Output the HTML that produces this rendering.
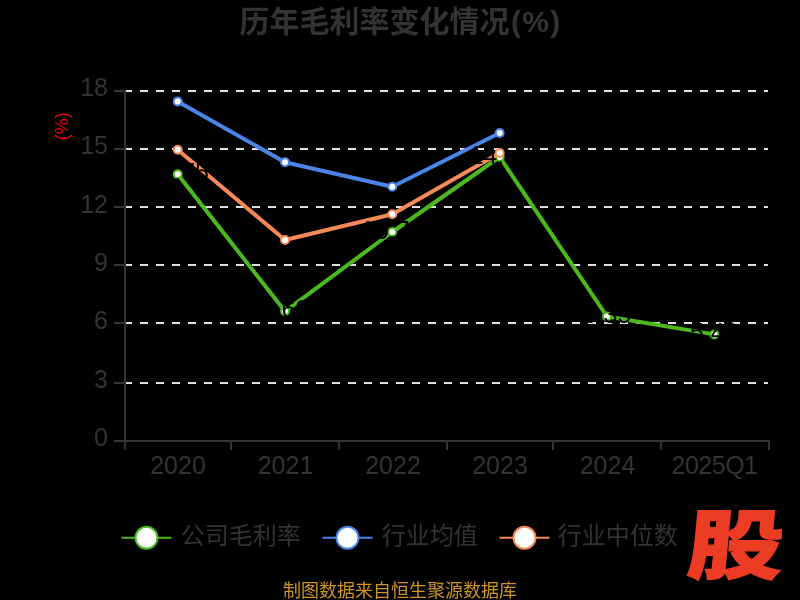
<!DOCTYPE html>
<html lang="zh-CN">
<head>
<meta charset="utf-8">
<title>历年毛利率变化情况(%)</title>
<style>
html,body{margin:0;padding:0;background:#000;}
body{width:800px;height:600px;overflow:hidden;position:relative;}
svg{display:block;position:absolute;left:0;top:0;will-change:transform;}
text{font-family:"Liberation Sans","Noto Sans CJK SC",sans-serif;}
.ax{fill:#333;font-size:25px;}
.lg{fill:#333;font-size:24px;}
</style>
</head>
<body>
<svg width="800" height="600" viewBox="0 0 800 600">

<!-- title -->
<text x="239.6" y="32" font-size="30" font-weight="bold" fill="#333">历年毛利率变化情况<tspan font-size="30" dx="1.5" letter-spacing="1.2">(%)</tspan></text>

<!-- y axis name -->
<text transform="translate(67.8,126.2) rotate(-90)" text-anchor="middle" font-size="18" fill="#ee0000">(%)</text>

<!-- split lines -->
<g stroke="#e0e0e0" stroke-width="2" stroke-dasharray="8 8" fill="none">
<line x1="124" y1="91" x2="768" y2="91"/>
<line x1="124" y1="149" x2="768" y2="149"/>
<line x1="124" y1="207" x2="768" y2="207"/>
<line x1="124" y1="265" x2="768" y2="265"/>
<line x1="124" y1="323" x2="768" y2="323"/>
<line x1="124" y1="383" x2="768" y2="383"/>
</g>

<!-- axes -->
<g fill="#333">
<rect x="124" y="90" width="2" height="352"/>
<rect x="124" y="440" width="646" height="2"/>
<rect x="114" y="90" width="10" height="2"/>
<rect x="114" y="148" width="10" height="2"/>
<rect x="114" y="206" width="10" height="2"/>
<rect x="114" y="264" width="10" height="2"/>
<rect x="114" y="322" width="10" height="2"/>
<rect x="114" y="382" width="10" height="2"/>
<rect x="114" y="440" width="10" height="2"/>
<rect x="124" y="440" width="2" height="10"/>
<rect x="230" y="440" width="2" height="10"/>
<rect x="338" y="440" width="2" height="10"/>
<rect x="446" y="440" width="2" height="10"/>
<rect x="552" y="440" width="2" height="10"/>
<rect x="660" y="440" width="2" height="10"/>
<rect x="768" y="440" width="2" height="10"/>
</g>

<!-- y labels -->
<g class="ax" text-anchor="end">
<text x="108" y="96.0">18</text>
<text x="108" y="154.3">15</text>
<text x="108" y="212.7">12</text>
<text x="108" y="271.0">9</text>
<text x="108" y="329.4">6</text>
<text x="108" y="387.9">3</text>
<text x="108" y="446.3">0</text>
</g>

<!-- x labels -->
<g class="ax" text-anchor="middle">
<text x="178" y="474">2020</text>
<text x="285.5" y="474">2021</text>
<text x="393" y="474">2022</text>
<text x="500" y="474">2023</text>
<text x="607.5" y="474">2024</text>
<text x="714.5" y="474" letter-spacing="-0.5">2025Q1</text>
</g>

<!-- series -->
<g stroke="#4db81e">
<polyline fill="none" stroke-width="4" stroke-linejoin="bevel" points="177.7,174.3 285,311.3 392.3,232 499.7,157 607,316.5 714.3,334.4"/>
<g fill="#fff" stroke-width="2"><circle cx="177.7" cy="174.3" r="4"/><circle cx="285" cy="311.3" r="4"/><circle cx="392.3" cy="232" r="4"/><circle cx="499.7" cy="157" r="4"/><circle cx="607" cy="316.5" r="4"/><circle cx="714.3" cy="334.4" r="4"/></g>
</g>
<g stroke="#4a84e6">
<polyline fill="none" stroke-width="4" stroke-linejoin="bevel" points="177.7,101.4 285,162.2 392.3,186.7 499.7,133"/>
<g fill="#fff" stroke-width="2"><circle cx="177.7" cy="101.4" r="4"/><circle cx="285" cy="162.2" r="4"/><circle cx="392.3" cy="186.7" r="4"/><circle cx="499.7" cy="133" r="4"/></g>
</g>
<g stroke="#f58a58">
<polyline fill="none" stroke-width="4" stroke-linejoin="bevel" points="177.7,149.7 285,240 392.3,214.3 499.7,153"/>
<g fill="#fff" stroke-width="2"><circle cx="177.7" cy="149.7" r="4"/><circle cx="285" cy="240" r="4"/><circle cx="392.3" cy="214.3" r="4"/><circle cx="499.7" cy="153" r="4"/></g>
</g>

<!-- data labels -->
<g id="dl" fill="#000" font-size="25" text-anchor="middle">
<text x="177.7" y="181.3">13.75</text>
<text x="285.0" y="318.3">6.69</text>
<text x="392.3" y="239.0">10.75</text>
<text x="500.7" y="164.0">14.57</text>
<text x="607.0" y="322.9">6.35</text>
<text x="714.3" y="341.4">5.49</text>
</g>

<!-- legend -->
<g stroke-width="2" fill="#fff">
<g stroke="#4db81e"><line x1="121.5" y1="537.7" x2="171.5" y2="537.7"/><circle cx="146.5" cy="537.7" r="11"/></g>
<g stroke="#4a84e6"><line x1="322.5" y1="537.7" x2="372.5" y2="537.7"/><circle cx="347.5" cy="537.7" r="11"/></g>
<g stroke="#f58a58"><line x1="499.5" y1="537.7" x2="549.5" y2="537.7"/><circle cx="524.5" cy="537.7" r="11"/></g>
</g>
<g class="lg">
<text x="180.8" y="544.3">公司毛利率</text>
<text x="381.8" y="544.3">行业均值</text>
<text x="557.8" y="544.3">行业中位数</text>
</g>

<!-- footer -->
<text x="400" y="596.6" text-anchor="middle" font-size="18" fill="#cd9423">制图数据来自恒生聚源数据库</text>

<!-- logo -->
<text id="logo" transform="translate(733.5,572.6) skewX(-5.5) scale(1.2,0.95)" text-anchor="middle" font-size="80" font-weight="900" fill="#ec3c23" stroke="#ec3c23" stroke-width="1.3" stroke-linejoin="miter" style="font-family:'Liberation Sans','Noto Sans CJK SC',sans-serif">股</text>
</svg>
</body>
</html>
